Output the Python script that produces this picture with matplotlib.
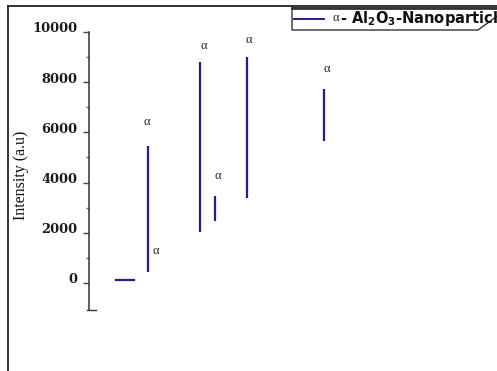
import matplotlib
matplotlib.use("Agg")
import matplotlib.pyplot as plt
from matplotlib.lines import Line2D
from matplotlib.patches import Polygon
from matplotlib.transforms import ScaledTranslation

plt.rcParams["mathtext.fontset"] = "custom"
plt.rcParams["mathtext.bf"] = "DejaVu Sans:bold"
plt.rcParams["mathtext.rm"] = "DejaVu Sans:bold"

# Diffraction lines (2-theta position, top and base intensity)
peak_pos = [21.5, 31.8, 34.8, 40.9, 56.0]
peak_top = [5450, 8790, 3480, 8990, 7720]
peak_base = [430, 2030, 2460, 3390, 5660]

# Short background segment near zero
base_start, base_end, base_level = 15.3, 18.9, 120

# Alpha-phase markers
label_x = [21.4, 23.1, 32.6, 35.2, 41.25, 56.7]
label_y = [6420, 1260, 9430, 4270, 9670, 8540]

yticks_major = [0, 2000, 4000, 6000, 8000, 10000]
yticks_minor = [1000, 3000, 5000, 7000, 9000]

line_color = "#1f1f8f"
W, H = 497, 371

fig = plt.figure(figsize=(W / 100, H / 100), dpi=100)
fig.patch.set_facecolor("white")

ax = fig.add_axes([89 / W, (H - 310) / H, (W - 89) / W, 278 / H])
ax.set_xlim(10, 90)
ax.set_ylim(-1080, 10000)

for x, top, base in zip(peak_pos, peak_top, peak_base):
    ax.plot([x, x], [base, top], color=line_color, lw=1.6, solid_capstyle="butt")
ax.plot([base_start, base_end], [base_level, base_level], color=line_color, lw=1.6)

for lx, ly in zip(label_x, label_y):
    ax.text(lx, ly, "α", fontsize=9, family="Liberation Serif",
            color="#202020", ha="center", va="center")

for side in ("top", "right", "bottom"):
    ax.spines[side].set_visible(False)
ax.spines["left"].set_color("#333333")
ax.spines["left"].set_linewidth(1.1)
ax.set_xticks([])
ax.set_yticks(yticks_major)
ax.set_yticks(yticks_minor, minor=True)
ax.set_yticklabels([str(v) for v in yticks_major], family="DejaVu Serif",
                   fontweight="bold", fontsize=9.4, color="#1a1a1a")
ax.tick_params(axis="y", which="major", direction="out", length=4,
               width=1, color="#444444", pad=4.5)
ax.tick_params(axis="y", which="minor", direction="out", length=2.5,
               width=1, color="#666666")
lift = ScaledTranslation(0, 0.045, fig.dpi_scale_trans)
for lab in ax.get_yticklabels():
    lab.set_transform(lab.get_transform() + lift)

# cross tick closing the bottom of the axis
ax.add_line(Line2D([-0.006, 0.016], [0, 0], transform=ax.transAxes,
                   color="#333333", lw=1.0, clip_on=False))

fig.text(21 / W, 1 - 175 / H, "Intensity (a.u)", rotation=90,
         family="Liberation Serif", fontsize=11.5, color="#111111",
         ha="center", va="center")

def px(x, y):
    return (x / W, 1 - y / H)

# outer frame
fig.add_artist(Line2D([px(8, 0)[0], px(8, 0)[0]], [px(0, 6)[1], 0],
                      transform=fig.transFigure, color="#222222", lw=1.3))
fig.add_artist(Line2D([px(8, 0)[0], 1], [px(0, 6)[1], px(0, 6)[1]],
                      transform=fig.transFigure, color="#222222", lw=1.3))

# legend box with bevelled corner
box = Polygon([px(292, 8), px(500, 8), px(500, 14), px(478, 30), px(292, 30)],
              closed=True, transform=fig.transFigure, facecolor="white",
              edgecolor="#333333", lw=1.0)
fig.add_artist(box)
fig.add_artist(Line2D([px(292, 0)[0], 1], [px(0, 8)[1], px(0, 8)[1]],
                      transform=fig.transFigure, color="#333333", lw=2.0))
fig.add_artist(Line2D([px(294, 0)[0], px(324, 0)[0]], [px(0, 19)[1]] * 2,
                      transform=fig.transFigure, color=line_color, lw=1.4))
fig.text(*px(336, 18), "α", family="Liberation Serif", fontsize=9,
         color="#202020", ha="center", va="center")
fig.text(*px(340, 18), r"- $\mathbf{Al_2O_3}$-Nanoparticles",
         family="DejaVu Sans", fontweight="bold", fontsize=10.5,
         color="#111111", ha="left", va="center")

fig.savefig("out.png", dpi=100, facecolor="white")
